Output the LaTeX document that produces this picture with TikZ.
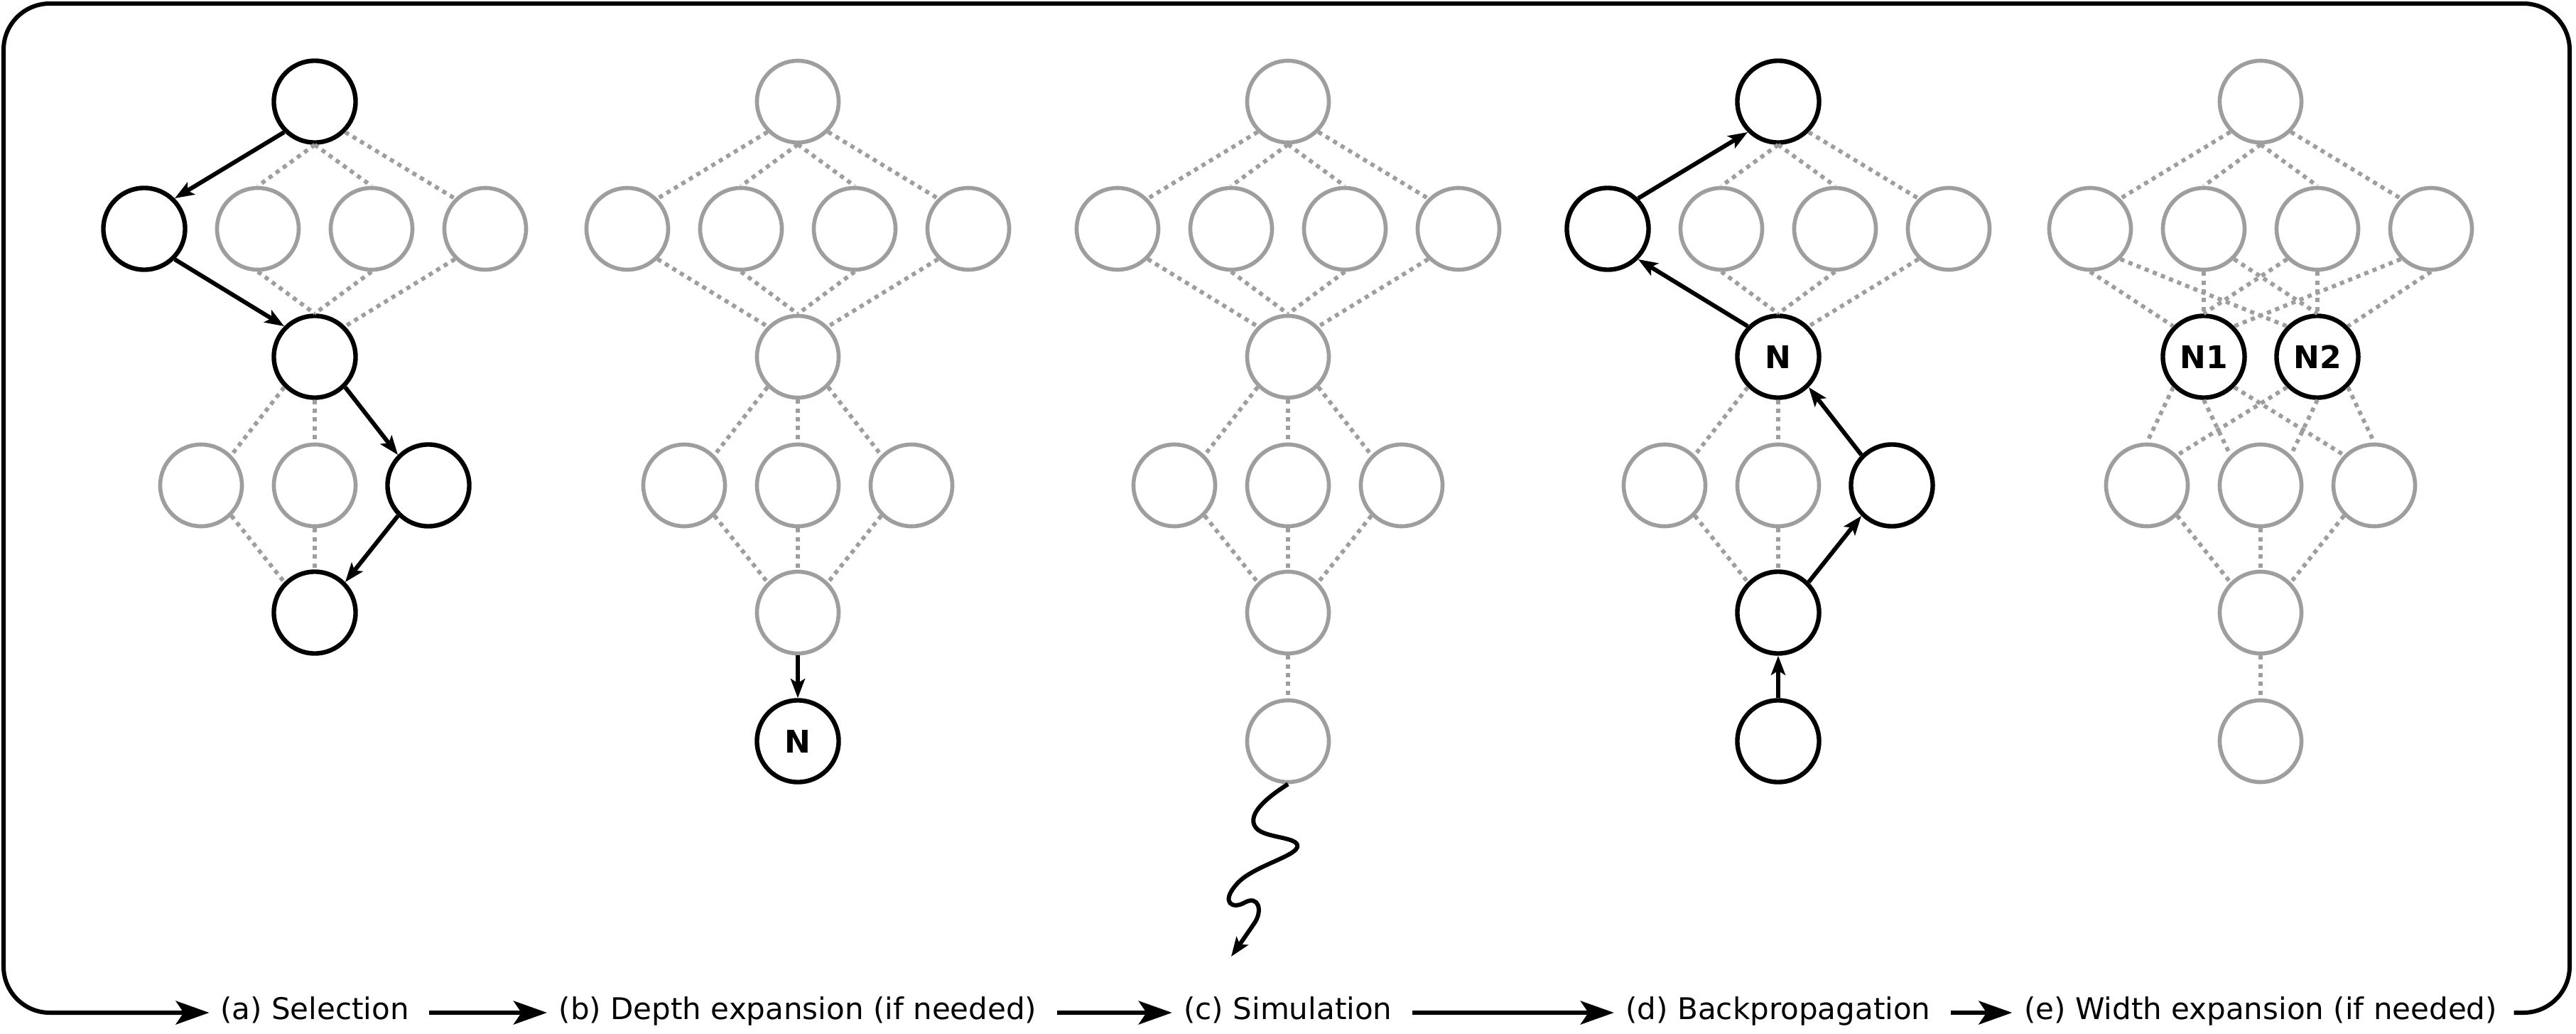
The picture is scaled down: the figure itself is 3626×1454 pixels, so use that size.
\documentclass[tikz,border=0pt]{standalone}
\usepackage{fontspec}
\setmainfont{DejaVu Sans}
\usetikzlibrary{arrows.meta,calc}
\definecolor{ngray}{RGB}{158,158,158}
\newcommand{\stdedges}[1]{%
 \draw[gedge] (#1-0.south west) -- (#1-1.north east);
 \draw[gedge] (#1-0.south) -- (#1-2.north);
 \draw[gedge] (#1-0.south) -- (#1-3.north);
 \draw[gedge] (#1-0.south east) -- (#1-4.north west);
 \draw[gedge] (#1-1.south east) -- (#1-5.north west);
 \draw[gedge] (#1-2.south) -- (#1-5.north);
 \draw[gedge] (#1-3.south) -- (#1-5.north);
 \draw[gedge] (#1-4.south west) -- (#1-5.north east);
 \draw[gedge] (#1-5.south west) -- (#1-6.north east);
 \draw[gedge] (#1-5.south) -- (#1-7.north);
 \draw[gedge] (#1-5.south east) -- (#1-8.north west);
 \draw[gedge] (#1-6.south east) -- (#1-9.north west);
 \draw[gedge] (#1-7.south) -- (#1-9.north);
 \draw[gedge] (#1-8.south west) -- (#1-9.north east);
}
\begin{document}
\begin{tikzpicture}[x=0.01cm,y=-0.01cm,
 gnode/.style={circle,draw=ngray,line width=0.056cm,minimum size=1.15cm,inner sep=0pt,fill=white},
 bnode/.style={circle,draw=black,line width=0.064cm,minimum size=1.15cm,inner sep=0pt,fill=white,font=\bfseries\fontsize{12.5pt}{14pt}\selectfont},
 gedge/.style={draw=ngray,line width=0.058cm,dash pattern=on 0.06cm off 0.063cm},
 bedge/.style={draw=black,line width=0.06cm,-{Stealth[length=0.27cm,width=0.2cm,inset=0.06cm]}},
 flow/.style={draw=black,line width=0.06cm,-{Stealth[length=0.47cm,width=0.33cm,inset=0.11cm]}},
 lbl/.style={font=\fontsize{11.95pt}{14pt}\selectfont,inner sep=0pt,anchor=base},
]
\useasboundingbox (0,0) rectangle (3626,1454);

% ---------- panel (a)
\node[bnode] (a-0) at (443,143) {};
\node[bnode] (a-1) at (203,322) {};
\node[gnode] (a-2) at (363,322) {};
\node[gnode] (a-3) at (523,322) {};
\node[gnode] (a-4) at (683,322) {};
\node[bnode] (a-5) at (443,502) {};
\node[gnode] (a-6) at (283,683) {};
\node[gnode] (a-7) at (443,683) {};
\node[bnode] (a-8) at (603,683) {};
\node[bnode] (a-9) at (443,862) {};
\draw[bedge] (a-0.south west) -- (a-1.north east);
\draw[gedge] (a-0.south) -- (a-2.north);
\draw[gedge] (a-0.south) -- (a-3.north);
\draw[gedge] (a-0.south east) -- (a-4.north west);
\draw[bedge] (a-1.south east) -- (a-5.north west);
\draw[gedge] (a-2.south) -- (a-5.north);
\draw[gedge] (a-3.south) -- (a-5.north);
\draw[gedge] (a-4.south west) -- (a-5.north east);
\draw[gedge] (a-5.south west) -- (a-6.north east);
\draw[gedge] (a-5.south) -- (a-7.north);
\draw[bedge] (a-5.south east) -- (a-8.north west);
\draw[gedge] (a-6.south east) -- (a-9.north west);
\draw[gedge] (a-7.south) -- (a-9.north);
\draw[bedge] (a-8.south west) -- (a-9.north east);

% ---------- panel (b)
\node[gnode] (b-0) at (1123,143) {};
\node[gnode] (b-1) at (883,322) {};
\node[gnode] (b-2) at (1043,322) {};
\node[gnode] (b-3) at (1203,322) {};
\node[gnode] (b-4) at (1363,322) {};
\node[gnode] (b-5) at (1123,502) {};
\node[gnode] (b-6) at (963,683) {};
\node[gnode] (b-7) at (1123,683) {};
\node[gnode] (b-8) at (1283,683) {};
\node[gnode] (b-9) at (1123,862) {};
\node[bnode] (b-10) at (1123,1043) {N};
\stdedges{b}
\draw[bedge] (b-9.south) -- (b-10.north);

% ---------- panel (c)
\node[gnode] (c-0) at (1813,143) {};
\node[gnode] (c-1) at (1573,322) {};
\node[gnode] (c-2) at (1733,322) {};
\node[gnode] (c-3) at (1893,322) {};
\node[gnode] (c-4) at (2053,322) {};
\node[gnode] (c-5) at (1813,502) {};
\node[gnode] (c-6) at (1653,683) {};
\node[gnode] (c-7) at (1813,683) {};
\node[gnode] (c-8) at (1973,683) {};
\node[gnode] (c-9) at (1813,862) {};
\node[gnode] (c-10) at (1813,1043) {};
\stdedges{c}
\draw[gedge] (c-9.south) -- (c-10.north);
\coordinate (simend) at (1733,1346);
\draw[bedge] (c-10.south) .. controls (1790,1118) and (1752,1145) .. (1768,1165)
  .. controls (1780,1180) and (1830,1177) .. (1826,1192)
  .. controls (1822,1206) and (1760,1220) .. (1740,1245)
  .. controls (1718,1270) and (1735,1280) .. (1752,1270)
  .. controls (1772,1259) and (1778,1282) .. (1765,1300)
  .. controls (1755,1315) .. (simend);

% ---------- panel (d)
\node[bnode] (d-0) at (2503,143) {};
\node[bnode] (d-1) at (2263,322) {};
\node[gnode] (d-2) at (2423,322) {};
\node[gnode] (d-3) at (2583,322) {};
\node[gnode] (d-4) at (2743,322) {};
\node[bnode] (d-5) at (2503,502) {N};
\node[gnode] (d-6) at (2343,683) {};
\node[gnode] (d-7) at (2503,683) {};
\node[bnode] (d-8) at (2663,683) {};
\node[bnode] (d-9) at (2503,862) {};
\node[bnode] (d-10) at (2503,1043) {};
\draw[bedge] (d-1.north east) -- (d-0.south west);
\draw[gedge] (d-0.south) -- (d-2.north);
\draw[gedge] (d-0.south) -- (d-3.north);
\draw[gedge] (d-0.south east) -- (d-4.north west);
\draw[bedge] (d-5.north west) -- (d-1.south east);
\draw[gedge] (d-2.south) -- (d-5.north);
\draw[gedge] (d-3.south) -- (d-5.north);
\draw[gedge] (d-4.south west) -- (d-5.north east);
\draw[gedge] (d-5.south west) -- (d-6.north east);
\draw[gedge] (d-5.south) -- (d-7.north);
\draw[bedge] (d-8.north west) -- (d-5.south east);
\draw[gedge] (d-6.south east) -- (d-9.north west);
\draw[gedge] (d-7.south) -- (d-9.north);
\draw[bedge] (d-9.north east) -- (d-8.south west);
\draw[bedge] (d-10.north) -- (d-9.south);

% ---------- panel (e)
\node[gnode] (e-0) at (3182,143) {};
\node[gnode] (e-1) at (2942,322) {};
\node[gnode] (e-2) at (3102,322) {};
\node[gnode] (e-3) at (3262,322) {};
\node[gnode] (e-4) at (3422,322) {};
\node[bnode] (n1) at (3102,502) {N1};
\node[bnode] (n2) at (3262,502) {N2};
\node[gnode] (e-6) at (3022,683) {};
\node[gnode] (e-7) at (3182,683) {};
\node[gnode] (e-8) at (3342,683) {};
\node[gnode] (e-9) at (3182,862) {};
\node[gnode] (e-10) at (3182,1043) {};
\draw[gedge] (e-0.south west) -- (e-1.north east);
\draw[gedge] (e-0.south) -- (e-2.north);
\draw[gedge] (e-0.south) -- (e-3.north);
\draw[gedge] (e-0.south east) -- (e-4.north west);
\draw[gedge] (e-1.south) -- (n1.north west);
\draw[gedge] (e-1.south east) -- (n2.north west);
\draw[gedge] (e-2.south) -- (n1.north);
\draw[gedge] (e-2.south east) -- (n2.north);
\draw[gedge] (e-3.south west) -- (n1.north);
\draw[gedge] (e-3.south) -- (n2.north);
\draw[gedge] (e-4.south west) -- (n1.north east);
\draw[gedge] (e-4.south) -- (n2.north east);
\draw[gedge] (n1.south west) -- (e-6.north);
\draw[gedge] (n1.south) -- (e-7.north west);
\draw[gedge] (n1.south east) -- (e-8.north west);
\draw[gedge] (n2.south west) -- (e-6.north east);
\draw[gedge] (n2.south) -- (e-7.north east);
\draw[gedge] (n2.south east) -- (e-8.north);
\draw[gedge] (e-6.south east) -- (e-9.north west);
\draw[gedge] (e-7.south) -- (e-9.north);
\draw[gedge] (e-8.south west) -- (e-9.north east);
\draw[gedge] (e-9.south) -- (e-10.north);

% ---------- step labels and cycle
\coordinate (fy) at (0,1425);
\node[lbl] (la) at (443,1434) {(a) Selection};
\node[lbl] (lb) at (1123,1434) {(b) Depth expansion (if needed)};
\node[lbl] (lc) at (1813,1434) {(c) Simulation};
\node[lbl] (ld) at (2503,1434) {(d) Backpropagation};
\node[lbl] (le) at (3182,1434) {(e) Width expansion (if needed)};
\draw[flow] ($(la.east |- fy)+(28,0)$) -- ($(lb.west |- fy)+(-16,0)$);
\draw[flow] ($(lb.east |- fy)+(28,0)$) -- ($(lc.west |- fy)+(-16,0)$);
\draw[flow] ($(lc.east |- fy)+(28,0)$) -- ($(ld.west |- fy)+(-16,0)$);
\draw[flow] ($(ld.east |- fy)+(28,0)$) -- ($(le.west |- fy)+(-16,0)$);
\coordinate (cbr) at (3617,1425);
\coordinate (ctr) at (3617,5);
\coordinate (ctl) at (5,5);
\coordinate (cbl) at (5,1425);
\draw[flow, rounded corners=0.65cm] ($(le.east |- fy)+(23,0)$) -- (cbr) -- (ctr) -- (ctl) -- (cbl) -- ($(la.west |- fy)+(-15,0)$);
\end{tikzpicture}
\end{document}
